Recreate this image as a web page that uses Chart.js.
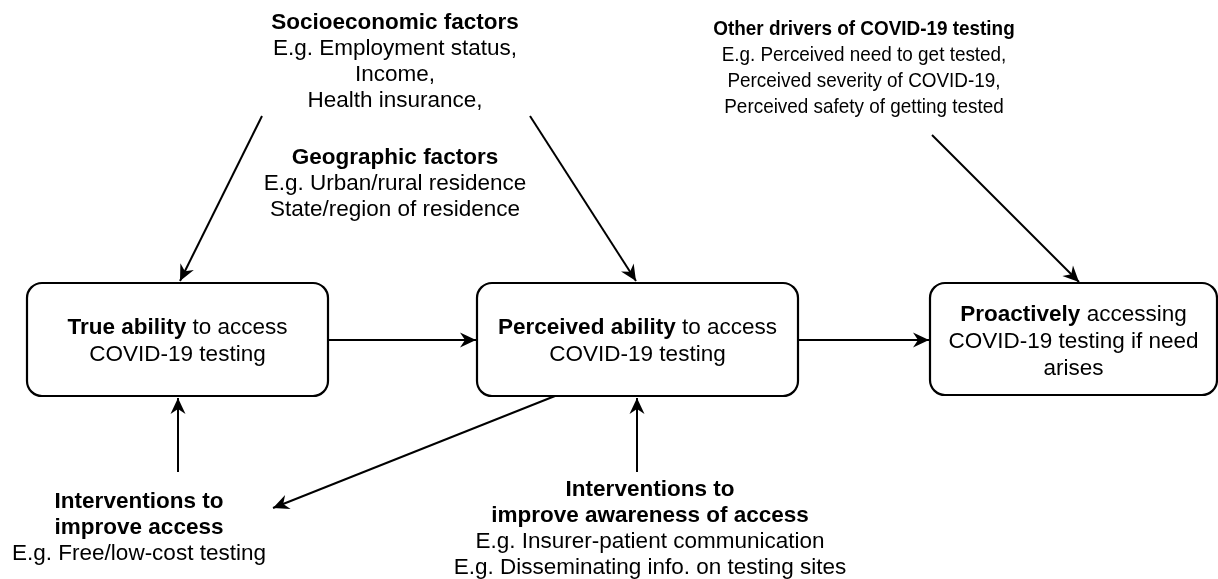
<!DOCTYPE html>
<html>
<head>
<meta charset="utf-8">
<script src="https://cdn.jsdelivr.net/npm/chart.js@4.4.1/dist/chart.umd.min.js"></script>
<style>
html,body{margin:0;padding:0;background:#fff;}
#wrap{width:1218px;height:579px;}
</style>
</head>
<body>
<div id="wrap"><canvas id="c" width="1218" height="579"></canvas></div>
<script>
// ---- content ----
const boxLabels = [
  [[{t:'True ability',b:true},{t:' to access'}],[{t:'COVID-19 testing'}]],
  [[{t:'Perceived ability',b:true},{t:' to access'}],[{t:'COVID-19 testing'}]],
  [[{t:'Proactively',b:true},{t:' accessing'}],[{t:'COVID-19 testing if need'}],[{t:'arises'}]]
];
const noteTitles = [
  ['Socioeconomic factors'],
  ['Geographic factors'],
  ['Other drivers of COVID-19 testing'],
  ['Interventions to','improve access'],
  ['Interventions to','improve awareness of access']
];
const noteLines = [
  ['E.g. Employment status,','Income,','Health insurance,'],
  ['E.g. Urban/rural residence','State/region of residence'],
  ['E.g. Perceived need to get tested,','Perceived severity of COVID-19,','Perceived safety of getting tested'],
  ['E.g. Free/low-cost testing'],
  ['E.g. Insurer-patient communication','E.g. Disseminating info. on testing sites']
];
// ---- layout (diagram coordinates) ----
const boxX0 = [27, 477, 930];
const boxX1 = [328, 798, 1217];
const boxY0 = [283, 283, 283];
const boxY1 = [396, 396, 395];
const boxTextY = [328, 328, 315];
const noteX = [395, 395, 864, 139, 650];
const noteY = [23, 158, 29, 502, 490];
const noteFS = [22.5, 22.5, 21, 22.5, 22.5];
const noteSX = [1, 1, 0.9, 1, 1];
const arrowFromX = [262, 530, 932, 328, 798, 178, 555, 637];
const arrowFromY = [116, 116, 135, 340, 340, 472, 396, 472];
const arrowToX   = [180, 636, 1079, 476, 929, 178, 273, 637];
const arrowToY   = [281, 281, 282, 340, 340, 398, 508, 398];

const LH = 26;
const FONT = '"Liberation Sans", Arial, Helvetica, sans-serif';
const FS = 22.5;

const datasets = arrowFromX.map((fx, i) => ({
  type: 'line',
  data: [{x: fx, y: arrowFromY[i]}, {x: arrowToX[i], y: arrowToY[i]}],
  borderColor: '#000',
  borderWidth: 2,
  pointRadius: 0,
  showLine: true,
  fill: false
}));

const diagramPlugin = {
  id: 'diagram',
  beforeDatasetsDraw(chart) {
    const ctx = chart.ctx, xs = chart.scales.x, ys = chart.scales.y;
    ctx.save();
    ctx.fillStyle = '#fff';
    ctx.fillRect(0, 0, chart.width, chart.height);
    ctx.strokeStyle = '#000';
    ctx.lineWidth = 2.2;
    boxX0.forEach((x0, i) => {
      const px0 = xs.getPixelForValue(x0), px1 = xs.getPixelForValue(boxX1[i]);
      const py0 = ys.getPixelForValue(boxY0[i]), py1 = ys.getPixelForValue(boxY1[i]);
      ctx.beginPath();
      ctx.roundRect(px0, py0, px1 - px0, py1 - py0, 15);
      ctx.stroke();
    });
    ctx.restore();
  },
  afterDatasetsDraw(chart) {
    const ctx = chart.ctx, xs = chart.scales.x, ys = chart.scales.y;
    ctx.save();
    ctx.fillStyle = '#000';
    arrowFromX.forEach((fx, i) => {
      const x0 = xs.getPixelForValue(fx), y0 = ys.getPixelForValue(arrowFromY[i]);
      const x1 = xs.getPixelForValue(arrowToX[i]), y1 = ys.getPixelForValue(arrowToY[i]);
      const a = Math.atan2(y1 - y0, x1 - x0);
      const L = 16, W = 7.5, back = 11;
      ctx.save();
      ctx.translate(x1, y1);
      ctx.rotate(a);
      ctx.beginPath();
      ctx.moveTo(0, 0);
      ctx.lineTo(-L, -W);
      ctx.lineTo(-back, 0);
      ctx.lineTo(-L, W);
      ctx.closePath();
      ctx.fill();
      ctx.restore();
    });
    ctx.textBaseline = 'middle';
    ctx.textAlign = 'left';
    boxLabels.forEach((lines, i) => {
      const cx = xs.getPixelForValue((boxX0[i] + boxX1[i]) / 2);
      lines.forEach((segs, j) => {
        const y = ys.getPixelForValue(boxTextY[i] + j * 27);
        let w = 0;
        segs.forEach(s => { ctx.font = (s.b ? 'bold ' : '') + FS + 'px ' + FONT; w += ctx.measureText(s.t).width; });
        let x = cx - w / 2;
        segs.forEach(s => {
          ctx.font = (s.b ? 'bold ' : '') + FS + 'px ' + FONT;
          ctx.fillText(s.t, x, y);
          x += ctx.measureText(s.t).width;
        });
      });
    });
    ctx.textAlign = 'center';
    const drawLine = (t, cx, y, sx) => {
      ctx.save();
      ctx.translate(cx, y);
      ctx.scale(sx, 1);
      ctx.fillText(t, 0, 0);
      ctx.restore();
    };
    noteTitles.forEach((titles, i) => {
      const cx = xs.getPixelForValue(noteX[i]);
      const fs = noteFS[i], sx = noteSX[i];
      let k = 0;
      ctx.font = 'bold ' + fs + 'px ' + FONT;
      titles.forEach(t => { drawLine(t, cx, ys.getPixelForValue(noteY[i] + k * LH), sx); k++; });
      ctx.font = fs + 'px ' + FONT;
      noteLines[i].forEach(t => { drawLine(t, cx, ys.getPixelForValue(noteY[i] + k * LH), sx); k++; });
    });
    ctx.restore();
  }
};

new Chart(document.getElementById('c'), {
  type: 'scatter',
  data: { datasets },
  options: {
    responsive: false,
    animation: false,
    devicePixelRatio: 1,
    layout: { padding: 0 },
    plugins: { legend: { display: false }, tooltip: { enabled: false } },
    scales: {
      x: { type: 'linear', min: 0, max: 1218, display: false },
      y: { type: 'linear', min: 0, max: 579, reverse: true, display: false }
    }
  },
  plugins: [diagramPlugin]
});
</script>
</body>
</html>
